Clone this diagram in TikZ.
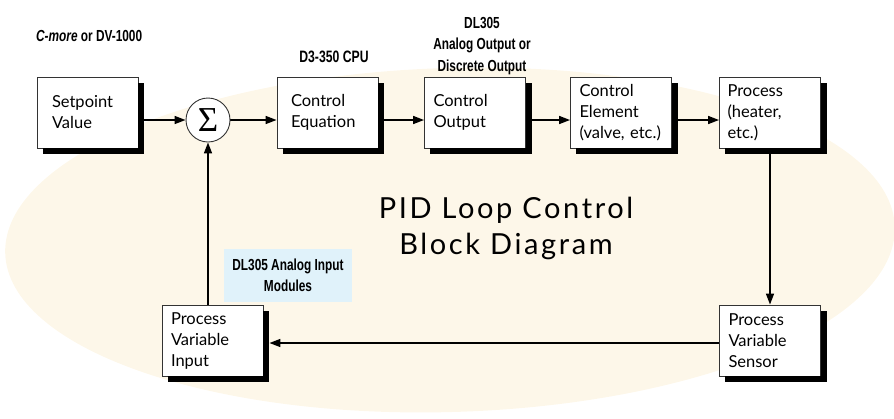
\documentclass[tikz,border=0pt]{standalone}
\usepackage{fontspec}
\setmainfont{Lato}
\newfontfamily\cond[FakeStretch=0.74]{Liberation Sans}
\newfontfamily\titlefont[LetterSpace=9]{Lato}
\newfontfamily\sigfont{Liberation Serif}
\usetikzlibrary{arrows.meta}
\definecolor{cream}{HTML}{FDF7E9}
\definecolor{lblue}{HTML}{E0F2FA}
\definecolor{edgec}{HTML}{333333}
\pgfdeclarelayer{bg}
\pgfdeclarelayer{mid}
\pgfsetlayers{bg,mid,main}
\begin{document}
\begin{tikzpicture}[x=1pt,y=-1pt,
  blk/.style={draw=edgec, line width=0.9pt, fill=white, minimum width=101pt,
    minimum height=71pt, inner xsep=9pt, text width=83pt, align=left,
    font=\fontsize{16.5}{21}\selectfont},
  shadowline/.style={draw=black, line width=6pt, line cap=butt, line join=miter},
  lbl/.style={font=\cond\bfseries\fontsize{16}{21.5}\selectfont, align=center, inner sep=0pt},
  flow/.style={line width=1.6pt, -{Triangle[length=11pt,width=8pt]}},
  ]
\useasboundingbox (0,0) rectangle (894,418);
\begin{pgfonlayer}{bg}
\fill[cream, rotate around={1.7:(450,240)}] (450,240) ellipse [x radius=445pt, y radius=172pt];
\end{pgfonlayer}

% labels
\node[lbl, anchor=base west] (cm) at (36,41) {\fontsize{16}{18}\selectfont\itshape C-more\upshape{} or DV-1000};
\node[lbl, anchor=base] (cpu) at (334,62) {\fontsize{16.5}{20}\selectfont D3-350 CPU};
\node[lbl] (dl) at (482,46) {DL305\\Analog Output or\\Discrete Output};
\node[lbl, fill=lblue, minimum width=128pt, minimum height=53pt] (ain) at (288,275.5) {DL305 Analog Input\\Modules};
\node[align=center, inner sep=0pt, font=\titlefont\fontsize{29}{36}\selectfont] (title) at (506,228) {PID Loop Control\\Block Diagram};

% blocks
\node[blk, inner xsep=15pt, text width=71pt] (sp) at (87.5,112.5) {Setpoint\\Value};
\node[circle, draw=edgec, line width=0.9pt, fill=white, minimum size=44pt, inner sep=0pt] (sig) at (208,120) {\sigfont\fontsize{35}{35}\selectfont Σ};
\node[blk, inner xsep=14pt, text width=73pt] (eq) at (327.5,112.5) {Control\\Equation};
\node[blk] (out) at (475,112.5) {Control\\Output};
\node[blk] (elem) at (621,112.5) {Control\\Element\\(valve, etc.)};
\node[blk, inner xsep=8pt, text width=85pt] (proc) at (770,112.5) {Process\\(heater,\\etc.)};
\node[blk] (sen) at (770,340.5) {Process\\Variable\\Sensor};
\node[blk] (inp) at (212.5,340.5) {Process\\Variable\\Input};

% drop shadows (right and bottom strips)
\foreach \n in {sp,eq,out,elem,proc,sen,inp}{
  \draw[shadowline] ([xshift=6pt,yshift=-3pt]\n.south west) -- ([xshift=3pt,yshift=-3pt]\n.south east) -- ([xshift=3pt,yshift=-6pt]\n.north east);
}

% connectors
\begin{pgfonlayer}{mid}
\draw[flow] (sp.east |- sig.west) -- (sig.west);
\draw[flow] (sig.east) -- (sig.east -| eq.west);
\draw[flow] ([yshift=-7.5pt]eq.east) -- ([yshift=-7.5pt]out.west);
\draw[flow] ([yshift=-7.5pt]out.east) -- ([yshift=-7.5pt]elem.west);
\draw[flow] ([yshift=-7.5pt]elem.east) -- ([yshift=-7.5pt]proc.west);
\draw[flow] (proc.south) -- (sen.north);
\draw[flow] ([yshift=-2.5pt]sen.west) -- ([xshift=6pt,yshift=-2.5pt]inp.east);
\draw[flow] (sig |- inp.north) -- (sig.south);
\end{pgfonlayer}
\end{tikzpicture}
\end{document}
